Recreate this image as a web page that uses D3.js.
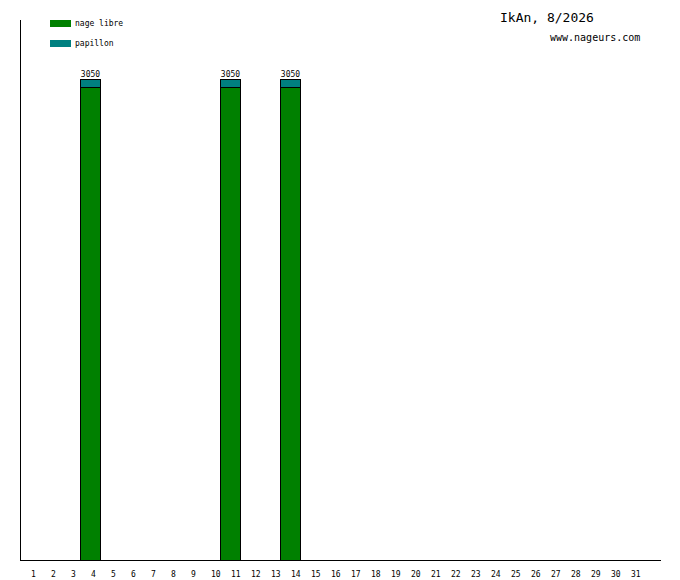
<!DOCTYPE html>
<html>
<head>
<meta charset="utf-8">
<script src="https://cdn.jsdelivr.net/npm/d3@7"></script>
<style>
  body { margin: 0; background: #fff; }
  svg { display: block; }
  text { font-family: "DejaVu Sans Mono", monospace; fill: #000; }
</style>
</head>
<body>
<svg id="chart"></svg>
<script>
/* data */
var days = d3.range(1, 32)
var nageLibre = [0,0,0,3000,0,0,0,0,0,0,3000,0,0,3000,0,0,0,0,0,0,0,0,0,0,0,0,0,0,0,0,0]
var papillon  = [0,0,0,50,0,0,0,0,0,0,50,0,0,50,0,0,0,0,0,0,0,0,0,0,0,0,0,0,0,0,0]
var seriesNames = ["nage libre", "papillon"]
var seriesColors = ["#008000", "#008080"]
var title = "IkAn, 8/2026"
var site = "www.nageurs.com"

/* layout */
var chart_w = 680, chart_h = 580
var plot_left = 20, plot_top = 20, plot_bottom = 560
var axis_end = 661

var svg = d3.select("#chart")
    .attr("width", chart_w)
    .attr("height", chart_h)
    .attr("shape-rendering", "crispEdges")

var rows = days.map(function(d, i) {
    return {day: d, "nage libre": nageLibre[i], "papillon": papillon[i]}
})
var stack = d3.stack().keys(seriesNames)(rows)

var x = d3.scaleBand()
    .domain(days)
    .range([plot_left, plot_left + days.length*20])
    .padding(0)

var totals = rows.map(function(r) { return r["nage libre"] + r["papillon"] })
var y = d3.scaleLinear()
    .domain([0, d3.max(totals)*1.1227])
    .range([plot_bottom, plot_top])

/* bars */
stack.forEach(function(layer, k) {
    svg.append("g")
        .selectAll("rect")
        .data(layer.filter(function(d) { return d[1] > d[0] }))
        .enter()
        .append("rect")
        .attr("x", function(d) { return x(d.data.day) + 0.5 })
        .attr("y", function(d) { return Math.round(y(d[1])) + 0.5 })
        .attr("width", x.bandwidth())
        .attr("height", function(d) { return Math.round(y(d[0])) - Math.round(y(d[1])) })
        .attr("fill", seriesColors[k])
        .attr("stroke", "#000")
        .attr("stroke-width", 1)
})

/* value labels */
svg.append("g")
    .selectAll("text")
    .data(rows.filter(function(r, i) { return totals[i] > 0 }))
    .enter()
    .append("text")
    .attr("x", function(d) { return x(d.day) + x.bandwidth()/2 + 0.5 })
    .attr("y", function(d) { return Math.round(y(d["nage libre"] + d["papillon"])) - 2 })
    .attr("text-anchor", "middle")
    .attr("font-size", 8)
    .text(function(d) { return d["nage libre"] + d["papillon"] })

/* axes */
svg.append("line")
    .attr("x1", plot_left + 0.5).attr("x2", plot_left + 0.5)
    .attr("y1", plot_top).attr("y2", plot_bottom + 1)
    .attr("stroke", "#000")
svg.append("line")
    .attr("x1", plot_left).attr("x2", axis_end)
    .attr("y1", plot_bottom + 0.5).attr("y2", plot_bottom + 0.5)
    .attr("stroke", "#000")

svg.append("g")
    .selectAll("text")
    .data(days)
    .enter()
    .append("text")
    .attr("x", function(d) { return x(d) + 11 })
    .attr("y", 577)
    .attr("font-size", 8)
    .text(function(d) { return d })

/* legend */
var legend = svg.append("g")
    .selectAll("g")
    .data(seriesNames)
    .enter()
    .append("g")
    .attr("transform", function(d, i) { return "translate(50," + (20 + i*20) + ")" })

legend.append("rect")
    .attr("width", 21)
    .attr("height", 7)
    .attr("fill", function(d, i) { return seriesColors[i] })

legend.append("text")
    .attr("x", 25)
    .attr("y", 6)
    .attr("font-size", 8)
    .text(function(d) { return d })

/* title */
svg.append("text")
    .attr("x", 500)
    .attr("y", 22)
    .attr("font-size", 13)
    .text(title)

svg.append("text")
    .attr("x", 550)
    .attr("y", 41)
    .attr("font-size", 10)
    .text(site)
</script>
</body>
</html>
